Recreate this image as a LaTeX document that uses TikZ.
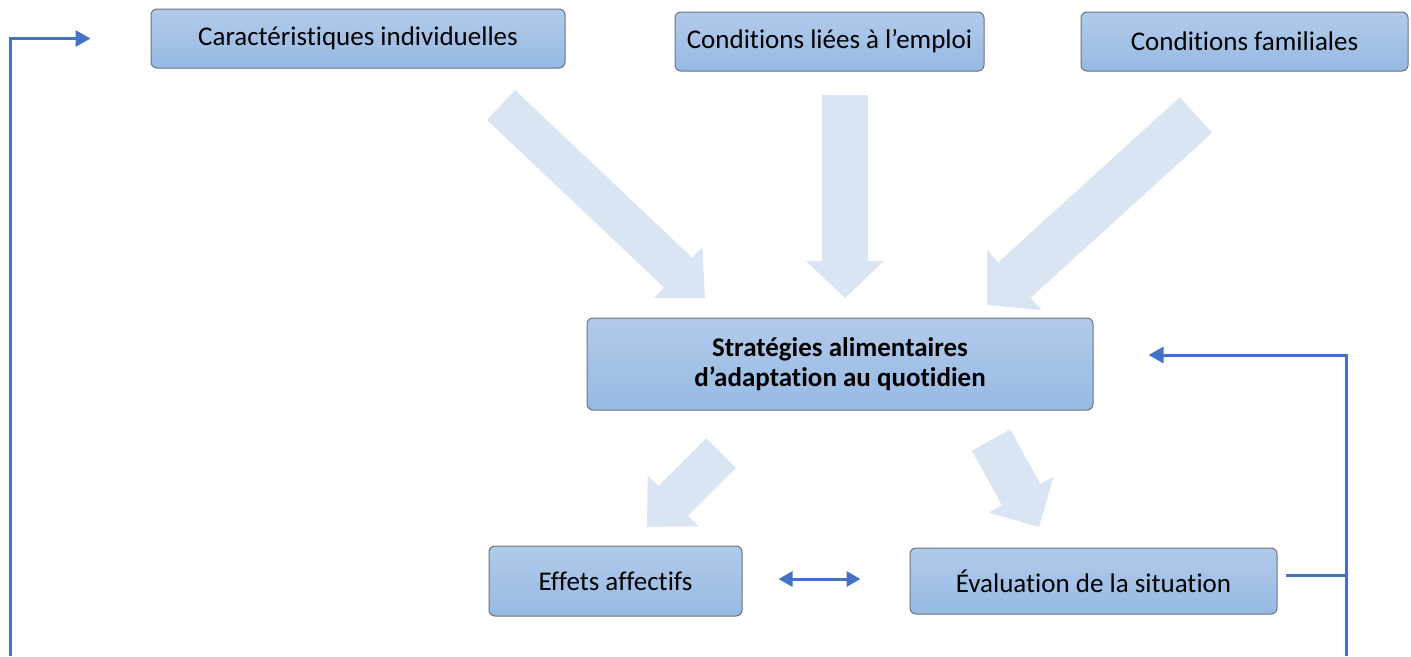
\documentclass[tikz,border=0pt]{standalone}
\usepackage{fontspec}
\setmainfont[Ligatures=NoCommon]{Carlito}
\usetikzlibrary{arrows.meta,calc}
\definecolor{boxtop}{RGB}{178,202,234}
\definecolor{boxbot}{RGB}{150,186,227}
\definecolor{boxline}{RGB}{105,115,128}
\definecolor{linkblue}{RGB}{68,114,196}
\definecolor{pale}{RGB}{218,229,243}
\begin{document}
\begin{tikzpicture}[x=1pt,y=-1pt,
  box/.style={draw=boxline,line width=1pt,rounded corners=6pt,top color=boxtop,bottom color=boxbot,
    font=\fontsize{27}{30}\selectfont,align=center,inner sep=0pt},
  big/.style 2 args={draw=pale,line width=#1,-{Triangle[length=37pt,width=#2,line width=0pt]}},
  link/.style={draw=linkblue,line width=3pt,-{Triangle[length=15pt,width=16pt]}}]
  \useasboundingbox (0,0) rectangle (1411,656);
  % Boxes
  \node[box,minimum width=414pt,minimum height=59pt] (indiv) at (358,38.5) {Caractéristiques individuelles};
  \node[box,minimum width=309pt,minimum height=59pt] (emploi) at (829.5,41.5) {Conditions liées à l’emploi};
  \node[box,minimum width=327pt,minimum height=59pt] (famille) at (1244.5,41.5) {Conditions familiales};
  \node[box,minimum width=506pt,minimum height=92pt,font=\fontsize{27}{30}\selectfont\bfseries] (strat) at (840,364)
    {Stratégies alimentaires\\d’adaptation au quotidien};
  \node[box,minimum width=253pt,minimum height=70pt] (effets) at (615.5,581) {Effets affectifs};
  \node[box,minimum width=367pt,minimum height=66pt] (eval) at (1093.5,581) {Évaluation de la situation};
  % Inputs
  \draw[big={41pt}{70pt}] (501,105) -- (705,298);
  \draw[big={46pt}{78pt}] (845,95) -- (845,298);
  \draw[big={48pt}{81pt}] (1196,115) -- (987,305);
  % Outputs
  \draw[big={42pt}{72pt}] (721,453) -- (647,527);
  \draw[big={44pt}{74pt}] (991,440) -- (1039,527);
  % Feedback
  \coordinate (lbot) at (10,656);
  \coordinate (rbot) at (1346,656);
  \coordinate (evalout) at ($(eval.east)+(8,-6)$);
  \draw[link] (lbot) |- ($(indiv.west)+(-60,0)$);
  \draw[link] (rbot) |- ($(strat.east)+(55,-9)$);
  \draw[linkblue,line width=3pt] (evalout) -- (evalout -| rbot);
  \draw[link,{Triangle[length=14pt,width=15pt]}-{Triangle[length=14pt,width=15pt]}]
    ($(effets.east)+(36,-2)$) -- ($(eval.west)+(-49,-2)$);
\end{tikzpicture}
\end{document}
